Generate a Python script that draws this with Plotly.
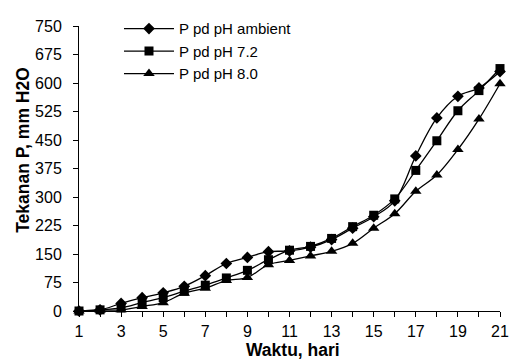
import plotly.graph_objects as go

days = list(range(1, 22))
p_ambient = [0, 3, 20, 35, 48, 65, 93, 125, 141, 156, 158, 168, 188, 218, 248, 290, 408, 508, 565, 587, 630]
p_ph72 = [0, 3, 8, 22, 35, 52, 68, 87, 107, 135, 160, 170, 191, 222, 252, 295, 370, 448, 527, 580, 638]
p_ph80 = [0, 2, 3, 12, 22, 47, 60, 80, 88, 122, 133, 145, 157, 178, 218, 256, 315, 358, 425, 505, 598]

names = ["P pd pH ambient", "P pd pH 7.2", "P pd pH 8.0"]
symbols = ["diamond", "square", "triangle-up"]
sizes = [9, 9, 10]
series = [p_ambient, p_ph72, p_ph80]

y_ticks = list(range(0, 751, 75))
x_tickvals = days
x_ticktext = [str(d) if d % 2 == 1 else "" for d in days]

FONT = "Liberation Sans, Arial, sans-serif"

fig = go.Figure()
for name, ys, sym, sz in zip(names, series, symbols, sizes):
    fig.add_trace(go.Scatter(
        x=days, y=ys, name=name, mode="lines+markers",
        line=dict(color="black", width=1.3, shape="spline", smoothing=1.0),
        marker=dict(symbol=sym, size=sz, color="black", line=dict(width=0)),
        cliponaxis=False,
    ))

fig.update_layout(
    width=521, height=362,
    margin=dict(l=79, r=12, t=21, b=51),
    paper_bgcolor="white", plot_bgcolor="white",
    font=dict(family=FONT, size=16, color="black"),
    showlegend=True,
    legend=dict(
        x=0.095, y=1.048, xanchor="left", yanchor="top",
        bgcolor="rgba(0,0,0,0)", borderwidth=0,
        font=dict(family=FONT, size=15, color="black"),
        itemwidth=50,
    ),
    xaxis=dict(
        range=[1, 21], tickmode="array", tickvals=x_tickvals, ticktext=x_ticktext,
        showgrid=False, zeroline=False, showline=True, linecolor="black", linewidth=1,
        ticks="outside", ticklen=5, tickcolor="black", tickwidth=1,
        tickfont=dict(family=FONT, size=16, color="black"),
        ticklabelstandoff=1,
    ),
    yaxis=dict(
        range=[0, 750], tickmode="array", tickvals=y_ticks,
        showgrid=False, zeroline=False, showline=True, linecolor="black", linewidth=1,
        ticks="outside", ticklen=5, tickcolor="black", tickwidth=1,
        tickfont=dict(family=FONT, size=16, color="black"),
        ticklabelstandoff=8,
    ),
    annotations=[
        dict(text="<b>Waktu, hari</b>", xref="paper", yref="paper",
             x=0.509, y=-0.137, xanchor="center", yanchor="middle", showarrow=False,
             font=dict(family=FONT, size=17.5, color="black")),
        dict(text="<b>Tekanan P, mm H2O</b>", xref="paper", yref="paper",
             x=-0.1326, y=0.566, xanchor="center", yanchor="middle", showarrow=False,
             textangle=-90, font=dict(family=FONT, size=17.5, color="black")),
    ],
)

fig.write_html("out.html")
